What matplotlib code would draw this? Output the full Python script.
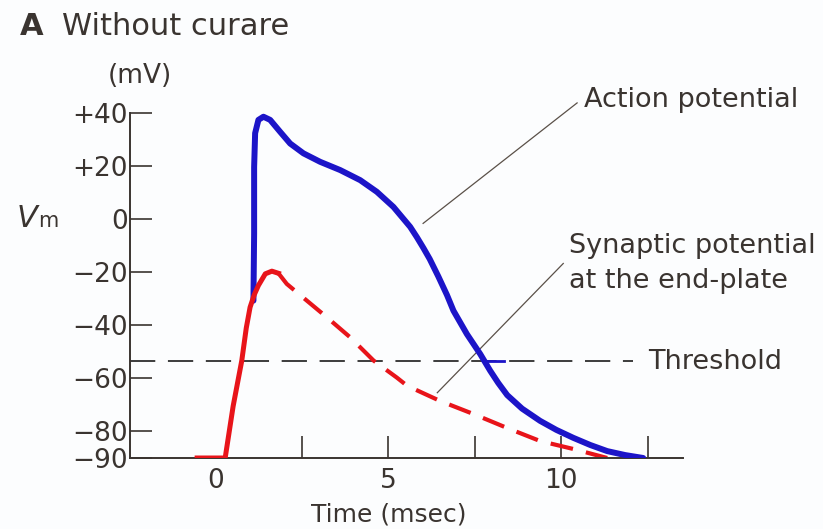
import matplotlib
matplotlib.use("Agg")
import matplotlib.pyplot as plt

# Synaptic potential at the end-plate (mV vs msec)
syn_rise_t = [-0.52, 0.29, 0.52, 0.77, 0.90, 1.01, 1.13, 1.25, 1.45, 1.64, 1.83]
syn_rise_v = [-90.0, -90.0, -70.5, -53.3, -41.0, -33.2, -28.5, -25.0, -20.6, -19.6, -20.4]
syn_decay_t = [1.83, 2.07, 2.65, 3.23, 3.90, 4.58, 5.25, 5.55, 6.50, 7.46, 8.44,
               9.39, 10.35, 11.33]
syn_decay_v = [-20.4, -24.4, -30.7, -37.0, -44.5, -53.3, -59.7, -62.8, -68.5, -73.4,
               -78.7, -83.6, -86.6, -90.0]

# Action potential
ap_t = [1.107, 1.127, 1.127, 1.156, 1.251, 1.396, 1.590, 1.879, 2.168, 2.552,
        3.035, 3.613, 4.191, 4.673, 5.153, 5.636, 5.83, 6.02, 6.20, 6.45, 6.70,
        6.887, 7.275, 7.659, 7.948, 8.18, 8.44, 8.87, 9.39, 9.86, 10.35, 10.84,
        11.33, 11.85, 12.37]
ap_v = [-30.7, -5.4, 19.6, 32.4, 37.4, 38.6, 37.4, 32.9, 28.5, 24.8,
        21.6, 18.5, 14.7, 10.3, 4.6, -2.9, -6.8, -10.9, -15.0, -21.6, -28.6,
        -34.5, -43.3, -50.8, -57.1, -61.7, -66.3, -71.4, -76.0, -79.4, -82.4, -85.1,
        -87.4, -88.9, -90.0]

threshold = -53.3

y_ticks = [40, 20, 0, -20, -40, -60, -80, -90]
y_labels = ["+40", "+20", "0", "\u221220", "\u221240", "\u221260", "\u221280", "\u221290"]
x_ticks = [0, 2.5, 5, 7.5, 10, 12.5]
x_labels = ["0", "", "5", "", "10", ""]

ink = "#3a3430"
blue = "#1c14c8"
red = "#e8141a"

plt.rcParams["font.family"] = "DejaVu Sans"

fig = plt.figure(figsize=(8.23, 5.29), dpi=100, facecolor="#fcfdfe")
ax = fig.add_axes([130 / 823, 71 / 529, 553 / 823, 345 / 529])
ax.set_facecolor("#fcfdfe")

ax.set_xlim(-2.46, 13.52)
ax.set_ylim(-90, 40)

for side in ("top", "right"):
    ax.spines[side].set_visible(False)
for side in ("left", "bottom"):
    ax.spines[side].set_color(ink)
    ax.spines[side].set_linewidth(1.4)

ax.set_yticks(y_ticks)
ax.set_yticklabels(y_labels)
ax.set_xticks(x_ticks)
ax.set_xticklabels(x_labels)
ax.tick_params(axis="both", direction="in", length=16, width=1.2, color=ink,
               labelcolor=ink, labelsize=19)
ax.tick_params(axis="y", pad=1.5)
ax.tick_params(axis="x", pad=7)
ax.xaxis.get_major_ticks()[0].tick1line.set_visible(False)

# threshold
ax.plot([-2.46, 12.08], [threshold, threshold], color="#3c3c3c", lw=1.4,
        dashes=(13, 6.5), zorder=1)
ax.plot([7.75, 8.35], [threshold, threshold], color=blue, lw=2.0, zorder=3)

ax.plot(syn_decay_t, syn_decay_v, color=red, lw=3.0, dashes=(5.5, 3.2),
        zorder=2)
ax.plot(ap_t, ap_v, color=blue, lw=4.3, solid_joinstyle="round",
        solid_capstyle="round", zorder=3)
ax.plot(syn_rise_t, syn_rise_v, color=red, lw=3.6, solid_joinstyle="round",
        zorder=4)

# leader lines
ax.plot([6.01, 10.46], [-1.6, 43.8], color="#5a5048", lw=0.9, clip_on=False)
ax.plot([6.42, 10.06], [-65.4, -16.7], color="#5a5048", lw=0.9, clip_on=False)

ax.text(10.66, 42.3, "Action potential", fontsize=19.5, color=ink,
        va="baseline", clip_on=False)
ax.text(10.23, -12.9, "Synaptic potential", fontsize=19.5, color=ink,
        va="baseline", clip_on=False)
ax.text(10.23, -26.1, "at the end-plate", fontsize=19.5, color=ink,
        va="baseline", clip_on=False)
ax.text(12.51, -56.4, "Threshold", fontsize=19.5, color=ink,
        va="baseline", clip_on=False)

ax.set_xlabel("Time (msec)", fontsize=18, color=ink)
ax.xaxis.set_label_coords(0.467, -0.13)

fig.text(20 / 823, 1 - 35 / 529, "A", fontsize=22, fontweight="bold",
         color=ink, va="baseline")
fig.text(62 / 823, 1 - 35 / 529, "Without curare", fontsize=22,
         color=ink, va="baseline")
fig.text(140 / 823, 1 - 83 / 529, "(mV)", fontsize=19, color=ink,
         ha="center", va="baseline")
fig.text(17 / 823, 1 - 227 / 529, "V", fontsize=22, style="italic",
         color=ink, va="baseline")
fig.text(38 / 823, 1 - 227 / 529, "m", fontsize=15, color=ink,
         va="baseline")

fig.savefig("out.png", dpi=100, facecolor=fig.get_facecolor())
